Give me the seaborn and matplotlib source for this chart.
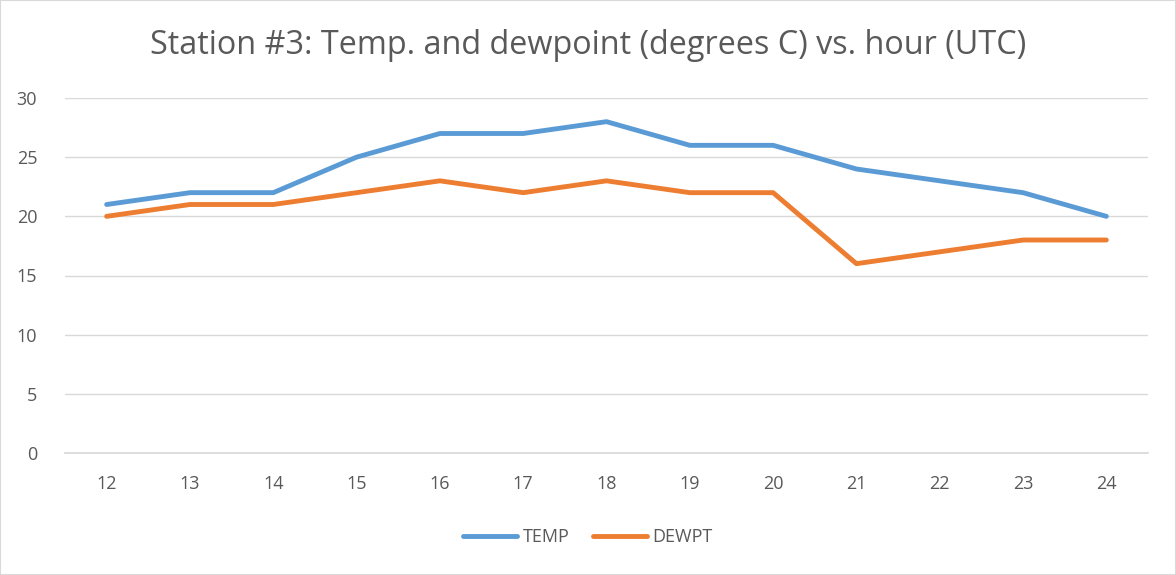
import matplotlib
matplotlib.use("Agg")
import matplotlib.pyplot as plt
import seaborn as sns
import pandas as pd

hours = [12, 13, 14, 15, 16, 17, 18, 19, 20, 21, 22, 23, 24]
temp = [21, 22, 22, 25, 27, 27, 28, 26, 26, 24, 23, 22, 20]
dewpt = [20, 21, 21, 22, 23, 22, 23, 22, 22, 16, 17, 18, 18]
y_ticks = [0, 5, 10, 15, 20, 25, 30]

sns.set_theme(style="white")
plt.rcParams['font.family'] = ['Open Sans', 'DejaVu Sans']

df = pd.DataFrame({"hour": hours * 2,
                   "value": temp + dewpt,
                   "series": ["TEMP"] * len(hours) + ["DEWPT"] * len(hours)})

fig = plt.figure(figsize=(11.76, 5.75), dpi=100)
ax = fig.add_axes([65/1176, 1-453/575, (1148-65)/1176, (453-98)/575])
sns.lineplot(data=df, x="hour", y="value", hue="series",
             palette={"TEMP": "#5B9BD5", "DEWPT": "#ED7D31"},
             linewidth=3.5, ax=ax, legend=False)

ax.set_xlim(11.5, 24.5)
ax.set_ylim(0, 30)
ax.set_xticks(hours)
ax.set_yticks(y_ticks)
ax.set_xlabel("")
ax.set_ylabel("")
ax.grid(axis="y", color="#D9D9D9", linewidth=1)
ax.set_axisbelow(True)
for s in ["top", "right", "left"]:
    ax.spines[s].set_visible(False)
ax.spines["bottom"].set_color("#D9D9D9")
ax.tick_params(axis="both", colors="#595959", labelsize=13, length=0)
ax.tick_params(axis="x", pad=16)
ax.tick_params(axis="y", pad=20)

fig.text(0.5, 1-45/575, "Station #3: Temp. and dewpoint (degrees C) vs. hour (UTC)",
         ha="center", va="center", fontsize=23.3, color="#595959")

from matplotlib.lines import Line2D
handles = [Line2D([], [], color="#5B9BD5", lw=3.5), Line2D([], [], color="#ED7D31", lw=3.5)]
fig.legend(handles, ["TEMP", "DEWPT"], loc="center", bbox_to_anchor=(0.5, 1-537/575),
           ncol=2, frameon=False, fontsize=13, labelcolor="#595959",
           handlelength=3.0, columnspacing=1.3, handletextpad=0.3)

fig.patches.append(plt.Rectangle((0, 0), 1, 1, transform=fig.transFigure,
                                 fill=False, edgecolor="#D9D9D9", lw=1.5))
fig.savefig("out.png", dpi=100)
